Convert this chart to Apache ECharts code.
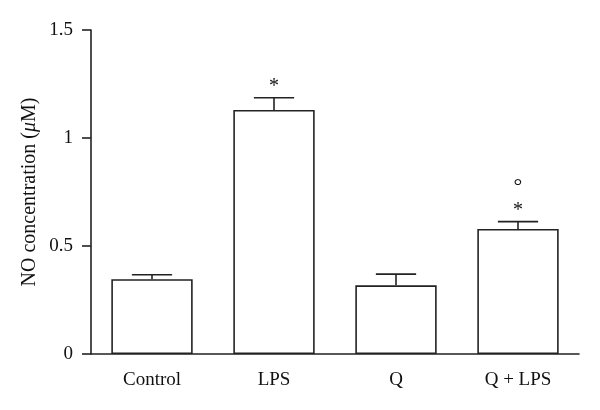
<!DOCTYPE html>
<html>
<head>
<meta charset="utf-8">
<script src="https://cdn.jsdelivr.net/npm/echarts@6/dist/echarts.min.js"></script>
<style>html,body{margin:0;padding:0;background:#fff}#c{width:600px;height:410px}</style>
</head>
<body>
<div id="c"></div>
<script>
var categories = ['Control', 'LPS', 'Q', 'Q + LPS'];
var means = [0.346, 1.130, 0.318, 0.579];
var errors = [0.021, 0.056, 0.052, 0.034];
var marks = ['', '*', '', '*'];
var marks2 = ['', '', '', '°'];
var yTicks = [0, 0.5, 1, 1.5];

var FONT = 'Liberation Serif';
var INK = '#222';

var chart = echarts.init(document.getElementById('c'), null, {renderer: 'canvas'});
chart.setOption({
  animation: false,
  grid: {left: 91, right: 21, top: 30, bottom: 56},
  xAxis: {
    type: 'category',
    data: categories,
    axisLine: {lineStyle: {color: INK, width: 1.6}},
    axisTick: {alignWithLabel: true, length: 9, lineStyle: {color: INK, width: 1.6}},
    axisLabel: {color: '#111', fontFamily: FONT, fontSize: 19, margin: 17}
  },
  yAxis: {
    type: 'value',
    min: yTicks[0],
    max: yTicks[yTicks.length - 1],
    interval: yTicks[1] - yTicks[0],
    splitLine: {show: false},
    axisLine: {show: true, lineStyle: {color: INK, width: 1.6}},
    axisTick: {show: true, length: 9, lineStyle: {color: INK, width: 1.6}},
    axisLabel: {color: '#111', fontFamily: FONT, fontSize: 19, margin: 18},
    name: 'NO concentration ({i|μ}M)',
    nameLocation: 'middle',
    nameGap: 51,
    nameMoveOverlap: false,
    nameRotate: 90,
    nameTextStyle: {color: '#111', fontFamily: FONT, fontSize: 20,
      rich: {i: {fontStyle: 'italic', fontFamily: FONT, fontSize: 20, color: '#111'}}}
  },
  series: [
    {
      type: 'bar',
      data: means,
      barWidth: '66.7%',
      itemStyle: {color: '#fff', borderColor: INK, borderWidth: 1.6},
      z: 2
    },
    {
      type: 'custom',
      z: 3,
      data: means.map(function (m, i) { return [i, m, errors[i]]; }),
      renderItem: function (params, api) {
        var i = api.value(0), m = api.value(1), e = api.value(2);
        var top = api.coord([i, m]);
        var cap = api.coord([i, m + e]);
        var half = api.size([1, 0])[0] * 0.165;
        var children = [
          {type: 'line', shape: {x1: top[0], y1: top[1], x2: cap[0], y2: cap[1]},
           style: {stroke: INK, lineWidth: 1.6}},
          {type: 'line', shape: {x1: cap[0] - half, y1: cap[1], x2: cap[0] + half, y2: cap[1]},
           style: {stroke: INK, lineWidth: 1.6}}
        ];
        if (marks[i]) {
          children.push({type: 'text', x: cap[0], y: cap[1] - 1,
            style: {text: marks[i], fill: '#111', font: '20px ' + FONT,
                    textAlign: 'center', textVerticalAlign: 'bottom'}});
        }
        if (marks2[i]) {
          children.push({type: 'text', x: cap[0], y: cap[1] - 23,
            style: {text: marks2[i], fill: '#111', font: '22px ' + FONT,
                    textAlign: 'center', textVerticalAlign: 'bottom'}});
        }
        return {type: 'group', children: children};
      }
    }
  ]
});
</script>
</body>
</html>
